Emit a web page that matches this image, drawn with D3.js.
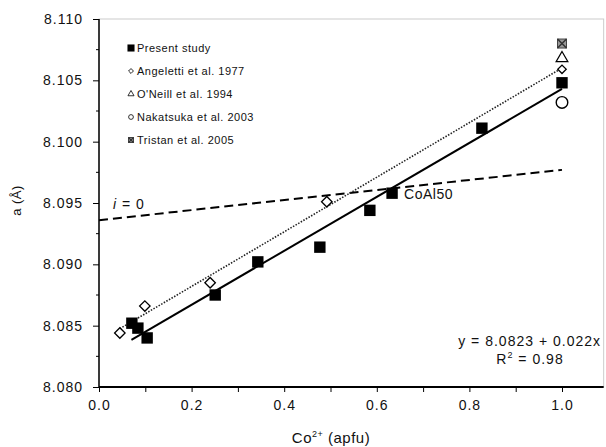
<!DOCTYPE html>
<html>
<head>
<meta charset="utf-8">
<script src="https://cdn.jsdelivr.net/npm/d3@7"></script>
<style>
  body { margin: 0; background: #fff; }
  svg text { font-family: "Liberation Sans", Arial, sans-serif; fill: #111; }
</style>
</head>
<body>
<svg id="chart" width="606" height="447"></svg>
<script>
// data (x = Co2+ apfu, y = a in Angstrom)
const presentX = [0.071, 0.084, 0.104, 0.251, 0.343, 0.477, 0.585, 0.633, 0.827, 1.0];
const presentY = [8.0852, 8.0848, 8.0840, 8.0875, 8.0902, 8.0914, 8.0944, 8.0958, 8.1011, 8.1048];
const angelettiX = [0.045, 0.099, 0.240, 0.492, 1.0];
const angelettiY = [8.0844, 8.0866, 8.0885, 8.0951, 8.1059];
const oneillX = [1.0], oneillY = [8.1068];
const nakatsukaX = [1.0], nakatsukaY = [8.1032];
const tristanX = [1.0], tristanY = [8.1080];

// fitted line of present study, and i = 0 line
const fitIntercept = 8.0823, fitSlope = 0.022;
const fitRange = [0.07, 1.0];
const inv0X = [0, 1.0];
const inv0Y = [8.0936, 8.0977];

const xTicks = [0, 0.2, 0.4, 0.6, 0.8, 1.0];
const yTicks = [8.080, 8.085, 8.090, 8.095, 8.100, 8.105, 8.110];
const legendLabels = ["Present study", "Angeletti et al. 1977", "O'Neill et al. 1994", "Nakatsuka et al. 2003", "Tristan et al. 2005"];

const svg = d3.select("#chart");
const x = d3.scaleLinear().domain([0, 1]).range([99, 562]);
const y = d3.scaleLinear().domain([8.080, 8.110]).range([387, 19]);
const xMax = 1.09;

// plot frame (light)
svg.append("rect")
  .attr("x", x(0)).attr("y", y(8.110))
  .attr("width", x(xMax) - x(0)).attr("height", y(8.080) - y(8.110))
  .attr("fill", "none").attr("stroke", "#ccc").attr("stroke-width", 1);

// axes
const bottom = svg.append("g")
  .attr("transform", `translate(0,${y(8.080)})`)
  .call(d3.axisBottom(x).tickValues(d3.range(0, 1.05, 0.1)).tickSize(5)
    .tickFormat(d => xTicks.some(t => Math.abs(t - d) < 1e-6) ? d3.format(".1f")(d) : ""));
bottom.select(".domain").attr("d", `M${x(0)},0H${x(xMax)}`).attr("stroke-width", 2);
bottom.selectAll("text").attr("font-size", 14).attr("letter-spacing", 1).attr("dy", "1.05em");

const left = svg.append("g")
  .attr("transform", `translate(${x(0)},0)`)
  .call(d3.axisLeft(y).tickValues(yTicks).tickSize(6).tickFormat(d3.format(".3f")));
left.select(".domain").attr("d", `M0,${y(8.080)}V${y(8.110)}`).attr("stroke-width", 1.5);
left.selectAll("text").attr("font-size", 14).attr("letter-spacing", 1).attr("dx", "-0.5em");
left.selectAll(".minor").data(d3.range(8.0825, 8.110, 0.005)).join("line")
  .attr("x1", -3).attr("x2", 0).attr("y1", d => y(d)).attr("y2", d => y(d))
  .attr("stroke", "#000");

// axis titles
svg.append("text")
  .attr("transform", `translate(21,${y(8.0952)}) rotate(-90)`)
  .attr("text-anchor", "middle").attr("font-size", 13).attr("letter-spacing", 0.5)
  .text("a (Å)");
const xl = svg.append("text")
  .attr("x", 331).attr("y", 443).attr("text-anchor", "middle").attr("font-size", 15).attr("letter-spacing", 0.5);
xl.append("tspan").text("Co");
xl.append("tspan").attr("font-size", 9).attr("dy", -6).text("2+");
xl.append("tspan").attr("dy", 6).text(" (apfu)");

// i = 0 dashed line
svg.append("line")
  .attr("x1", x(inv0X[0])).attr("y1", y(inv0Y[0]))
  .attr("x2", x(inv0X[1])).attr("y2", y(inv0Y[1]))
  .attr("stroke", "#000").attr("stroke-width", 2).attr("stroke-dasharray", "9,5");
const il = svg.append("text").attr("x", 113).attr("y", 209).attr("font-size", 14).attr("letter-spacing", 1);
il.append("tspan").attr("font-style", "italic").text("i");
il.append("tspan").text(" = 0");

// dotted fit through Angeletti et al. points
const reg = (xs, ys) => {
  const mx = d3.mean(xs), my = d3.mean(ys);
  const b = d3.sum(xs, (v, i) => (v - mx) * (ys[i] - my)) / d3.sum(xs, v => (v - mx) ** 2);
  return [my - b * mx, b];
};
const [ai, as] = reg(angelettiX, angelettiY);
const ax0 = d3.min(angelettiX), ax1 = d3.max(angelettiX);
svg.append("line")
  .attr("x1", x(ax0)).attr("y1", y(ai + as * ax0))
  .attr("x2", x(ax1)).attr("y2", y(ai + as * ax1))
  .attr("stroke", "#222").attr("stroke-width", 1.6).attr("stroke-dasharray", "1.5,1.5");

// solid fit of present study
svg.append("line")
  .attr("x1", x(fitRange[0])).attr("y1", y(fitIntercept + fitSlope * fitRange[0]))
  .attr("x2", x(fitRange[1])).attr("y2", y(fitIntercept + fitSlope * fitRange[1]))
  .attr("stroke", "#000").attr("stroke-width", 2);

// markers
const sym = (type, size) => d3.symbol().type(type).size(size)();
function drawSquareX(g, cx, cy, s, fill) {
  g.append("rect").attr("x", cx - s / 2).attr("y", cy - s / 2).attr("width", s).attr("height", s)
    .attr("fill", fill).attr("stroke", "#444").attr("stroke-width", 1);
  g.append("path").attr("d", `M${cx - s / 2},${cy - s / 2}L${cx + s / 2},${cy + s / 2}M${cx + s / 2},${cy - s / 2}L${cx - s / 2},${cy + s / 2}`)
    .attr("stroke", "#333").attr("stroke-width", 1.5);
}
const pts = svg.append("g");
pts.selectAll(".ang").data(angelettiX).join("path")
  .attr("transform", (d, i) => `translate(${x(d)},${y(angelettiY[i])}) rotate(45)`)
  .attr("d", (d, i) => sym(d3.symbolSquare, i === angelettiX.length - 1 ? 36 : 55))
  .attr("fill", "#fff").attr("stroke", "#000").attr("stroke-width", 1.3);
pts.selectAll(".pres").data(presentX).join("path")
  .attr("transform", (d, i) => `translate(${x(d)},${y(presentY[i])})`)
  .attr("d", sym(d3.symbolSquare, 130)).attr("fill", "#000");
pts.selectAll(".one").data(oneillX).join("path")
  .attr("transform", (d, i) => `translate(${x(d)},${y(oneillY[i])})`)
  .attr("d", sym(d3.symbolTriangle, 60)).attr("fill", "#fff").attr("stroke", "#000").attr("stroke-width", 1.2);
pts.selectAll(".nak").data(nakatsukaX).join("path")
  .attr("transform", (d, i) => `translate(${x(d)},${y(nakatsukaY[i])})`)
  .attr("d", sym(d3.symbolCircle, 105)).attr("fill", "#fff").attr("stroke", "#000").attr("stroke-width", 1.4);
tristanX.forEach((d, i) => drawSquareX(pts, x(d), y(tristanY[i]), 9, "#999"));

// CoAl50 label
svg.append("text").attr("x", x(presentX[7]) + 12).attr("y", y(presentY[7]) + 6)
  .attr("font-size", 14).attr("letter-spacing", 0.5).text("CoAl50");

// legend
const lg = svg.append("g").attr("transform", "translate(131,48)");
legendLabels.forEach((lab, i) => {
  const row = lg.append("g").attr("transform", `translate(0,${i * 23})`);
  if (i === 0) row.append("path").attr("d", sym(d3.symbolSquare, 50)).attr("fill", "#000");
  if (i === 1) row.append("path").attr("transform", "rotate(45)").attr("d", sym(d3.symbolSquare, 12)).attr("fill", "#fff").attr("stroke", "#000").attr("stroke-width", 0.8);
  if (i === 2) row.append("path").attr("d", sym(d3.symbolTriangle, 16)).attr("fill", "#fff").attr("stroke", "#000").attr("stroke-width", 0.8);
  if (i === 3) row.append("path").attr("d", sym(d3.symbolCircle, 18)).attr("fill", "#fff").attr("stroke", "#000").attr("stroke-width", 0.8);
  if (i === 4) drawSquareX(row, 0, 0, 5, "#bbb");
  row.append("text").attr("x", 6).attr("y", 4).attr("font-size", 11).attr("letter-spacing", 0.5).text(lab);
});

// equation
svg.append("text").attr("x", 601).attr("y", 346).attr("text-anchor", "end")
  .attr("font-size", 14).attr("letter-spacing", 1).text("y = 8.0823 + 0.022x");
const r2 = svg.append("text").attr("x", 530).attr("y", 364).attr("text-anchor", "middle")
  .attr("font-size", 14).attr("letter-spacing", 1);
r2.append("tspan").text("R");
r2.append("tspan").attr("font-size", 9).attr("dy", -6).text("2");
r2.append("tspan").attr("dy", 6).text(" = 0.98");
</script>
</body>
</html>
